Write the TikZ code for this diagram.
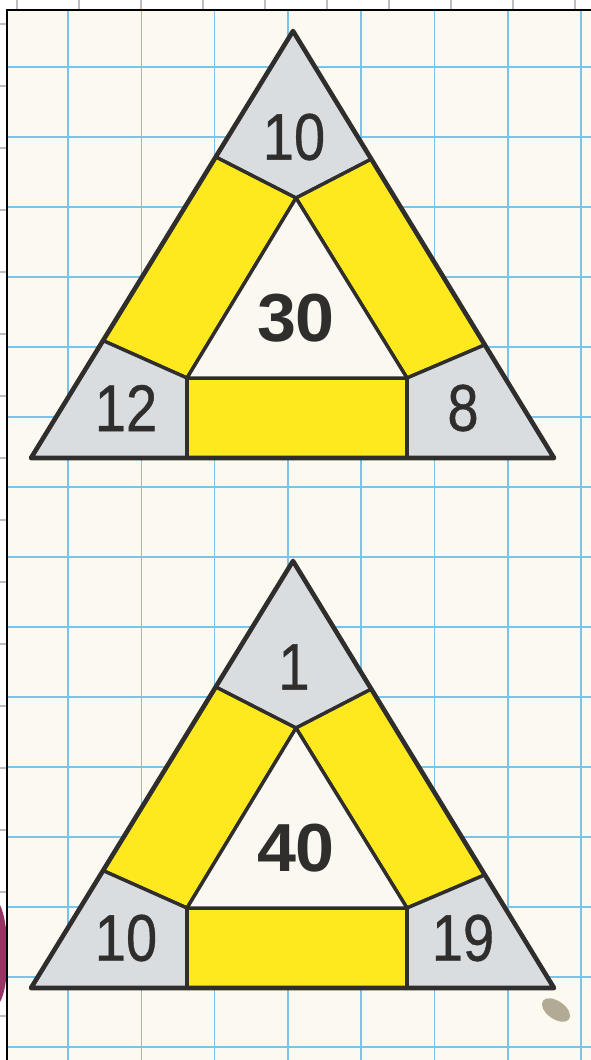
\documentclass[tikz,border=0pt]{standalone}
\usepackage{fontspec}
\setmainfont{Liberation Sans}
\newfontfamily\numfont[FakeBold=0.7]{Liberation Sans}
\usetikzlibrary{calc}
\definecolor{paper}{RGB}{252,249,241}
\definecolor{gridblue}{RGB}{122,195,233}
\definecolor{tgrey}{RGB}{217,221,224}
\definecolor{tyellow}{RGB}{253,233,30}
\definecolor{twhite}{RGB}{251,248,242}
\definecolor{ink}{RGB}{48,46,44}
\definecolor{tickgrey}{RGB}{190,190,190}
\definecolor{blobpurple}{RGB}{150,52,100}
\definecolor{smudge}{RGB}{178,170,148}
\tikzset{
  gridline/.style={gridblue,line width=1.6pt},
  region/.style={draw=ink,line width=3.4pt,line join=round},
  outline/.style={draw=ink,line width=4.6pt,line join=round},
  numreg/.style={text=ink,font=\numfont\fontsize{66}{66}\selectfont,inner sep=0pt},
  numbold/.style={text=ink,font=\fontsize{68}{68}\selectfont\bfseries,inner sep=0pt},
}
\newcommand{\drawpuzzle}[6]{%
\begin{scope}[shift={(0,#2)}]
  \coordinate (#1A) at (293,31);
  \coordinate (#1BL) at (31,458);
  \coordinate (#1BR) at (554,458);
  \coordinate (#1C) at (296,198);
  \coordinate (#1IL) at (187,378);
  \coordinate (#1IR) at (407,378);
  \coordinate (#1P) at (187,458);
  \coordinate (#1Q) at (407,458);
  \coordinate (#1L1) at ($(#1A)!0.295!(#1BL)$);
  \coordinate (#1L2) at ($(#1A)!0.725!(#1BL)$);
  \coordinate (#1R1) at ($(#1A)!0.30!(#1BR)$);
  \coordinate (#1R2) at ($(#1A)!0.735!(#1BR)$);
  \filldraw[region,fill=tgrey] (#1A) -- (#1R1) -- (#1C) -- (#1L1) -- cycle;
  \filldraw[region,fill=tyellow] (#1L1) -- (#1C) -- (#1IL) -- (#1L2) -- cycle;
  \filldraw[region,fill=tyellow] (#1R1) -- (#1R2) -- (#1IR) -- (#1C) -- cycle;
  \filldraw[region,fill=tgrey] (#1L2) -- (#1IL) -- (#1P) -- (#1BL) -- cycle;
  \filldraw[region,fill=tgrey] (#1R2) -- (#1BR) -- (#1Q) -- (#1IR) -- cycle;
  \filldraw[region,fill=tyellow] (#1IL) -- (#1IR) -- (#1Q) -- (#1P) -- cycle;
  \filldraw[region,fill=twhite] (#1C) -- (#1IR) -- (#1IL) -- cycle;
  \draw[outline] (#1A) -- (#1BR) -- (#1BL) -- cycle;
  \node[numreg] (#1top) at (294,137) {\scalebox{0.85}[1]{#3}};
  \node[numbold] (#1mid) at (296,318) {\scalebox{1.03}[1]{#4}};
  \node[numreg] (#1left) at (126,408) {\scalebox{0.85}[1]{#5}};
  \node[numreg] (#1right) at (463,408) {\scalebox{0.85}[1]{#6}};
\end{scope}}
\begin{document}
\begin{tikzpicture}[x=1pt,y=-1pt]
\useasboundingbox (0,0) rectangle (591,1060);
\fill[white] (0,0) rectangle (591,1060);
\fill[paper] (7,10) rectangle (591,1060);
% ticks outside the frame
\foreach \x in {17,79,...,591} \draw[tickgrey,line width=1.2pt] (\x,0) -- (\x,9);
\foreach \y in {24,86,...,1060} \draw[tickgrey,line width=1.2pt] (0,\y) -- (6,\y);
% purple blob at the left edge
\fill[blobpurple] (0,905) .. controls (10,925) and (10,985) .. (0,1002) -- cycle;
% grid
\foreach \k in {0,...,7} \draw[gridline] ({68+73.3*\k},10) -- ({68+73.3*\k},1060);
\foreach \k in {0,...,14} \draw[gridline] (7,{67+70*\k}) -- (591,{67+70*\k});
% frame
\draw[black,line width=2.6pt] (7,1060) -- (7,10) -- (591,10);
% smudge
\fill[smudge,rotate around={-35:(556,1010)}] (556,1010) ellipse (16 and 9);
% puzzles
\drawpuzzle{a}{0}{10}{30}{12}{8}
\drawpuzzle{b}{530}{1}{40}{10}{19}
\end{tikzpicture}
\end{document}
